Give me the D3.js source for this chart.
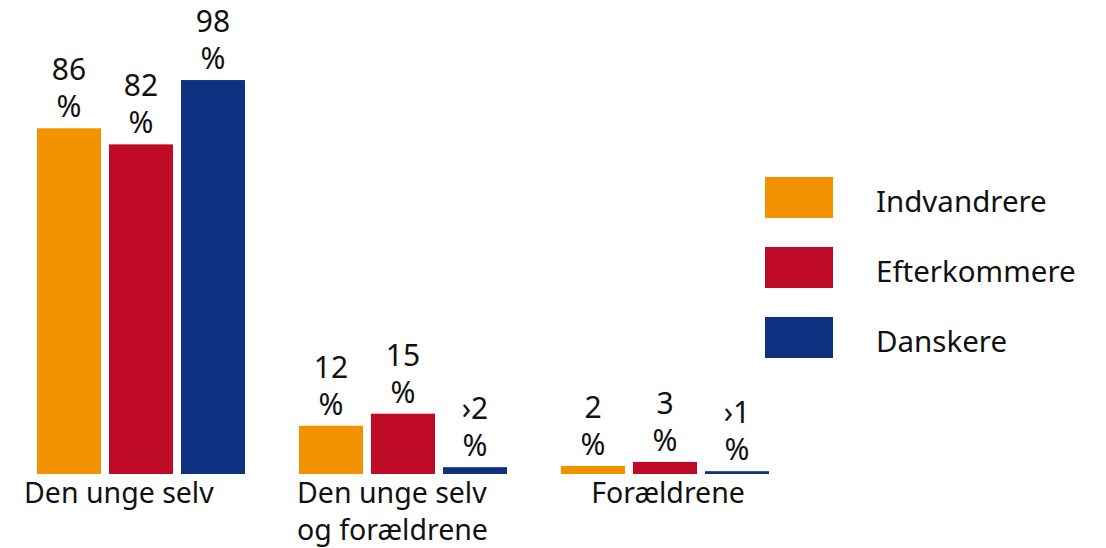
<!DOCTYPE html>
<html>
<head>
<meta charset="utf-8">
<script src="https://cdn.jsdelivr.net/npm/d3@7"></script>
<style>
  html, body { margin: 0; padding: 0; background: #fff; }
  svg text { font-family: "Noto Sans", "DejaVu Sans", sans-serif; fill: #111; }
</style>
</head>
<body>
<div id="chart"></div>
<script>
// data
var categories = [["Den unge selv"], ["Den unge selv", "og forældrene"], ["Forældrene"]];
var series = ["Indvandrere", "Efterkommere", "Danskere"];
var indvandrere = [86, 12, 2];
var efterkommere = [82, 15, 3];
var danskere = [98, 1.7, 0.7];
var valueLabels = [["86", "82", "98"], ["12", "15", "›2"], ["2", "3", "›1"]];
var colors = ["#F39200", "#BE0A26", "#0E3181"];

var width = 1106, height = 548;
var baseline = 474;

var svg = d3.select("#chart")
	.append("svg")
	.attr("width", width)
	.attr("height", height);

var x0 = d3.scaleBand()
	.domain(d3.range(categories.length))
	.range([37, 769])
	.paddingInner(54 / 262)
	.paddingOuter(0);

var x1 = d3.scaleBand()
	.domain(series)
	.range([0, x0.bandwidth()])
	.paddingInner(8 / 72);

var y = d3.scaleLinear()
	.domain([0, 100])
	.range([baseline, 72]);

var color = d3.scaleOrdinal().domain(series).range(colors);

var values = [indvandrere, efterkommere, danskere];
var rows = [];
categories.forEach(function (c, i) {
	series.forEach(function (s, j) {
		rows.push({ cat: i, series: s, value: values[j][i], label: valueLabels[i][j] });
	});
});

var groups = svg.selectAll("g.bar")
	.data(rows)
	.enter()
	.append("g")
	.attr("class", "bar")
	.attr("transform", function (d) {
		return "translate(" + (x0(d.cat) + x1(d.series)) + ",0)";
	});

groups.append("rect")
	.attr("x", 0)
	.attr("y", function (d) { return y(d.value); })
	.attr("width", x1.bandwidth())
	.attr("height", function (d) { return baseline - y(d.value); })
	.attr("fill", function (d) { return color(d.series); });

var lbl = groups.append("text")
	.attr("text-anchor", "middle")
	.style("font-size", "30px");
lbl.append("tspan")
	.attr("x", x1.bandwidth() / 2)
	.attr("y", function (d) { return y(d.value) - 48; })
	.text(function (d) { return d.label; });
lbl.append("tspan")
	.attr("x", x1.bandwidth() / 2)
	.attr("y", function (d) { return y(d.value) - 11; })
	.text("%");

// category labels: first two are left aligned, last one centred
var catAnchor = ["start", "start", "middle"];
var catShift = [-13, -2, 0];
var catText = svg.selectAll("text.cat")
	.data(categories)
	.enter()
	.append("text")
	.attr("class", "cat")
	.attr("text-anchor", function (d, i) { return catAnchor[i]; })
	.style("font-size", "28.5px")
	.attr("transform", function (d, i) {
		var x = catAnchor[i] === "middle" ? x0(i) + x0.bandwidth() / 2 + 3 : x0(i) + catShift[i];
		return "translate(" + x + ",0)";
	});
catText.selectAll("tspan")
	.data(function (d) { return d; })
	.enter()
	.append("tspan")
	.attr("x", 0)
	.attr("y", function (d, i) { return 503 + i * 37; })
	.text(function (d) { return d; });

// legend
var legend = svg.selectAll("g.legend")
	.data(series)
	.enter()
	.append("g")
	.attr("class", "legend")
	.attr("transform", function (d, i) { return "translate(765," + (177 + i * 70) + ")"; });
legend.append("rect")
	.attr("width", 68)
	.attr("height", 41)
	.attr("fill", function (d) { return color(d); });
legend.append("text")
	.attr("x", 111)
	.attr("y", 35)
	.style("font-size", "29.5px")
	.text(function (d) { return d; });
</script>
</body>
</html>
